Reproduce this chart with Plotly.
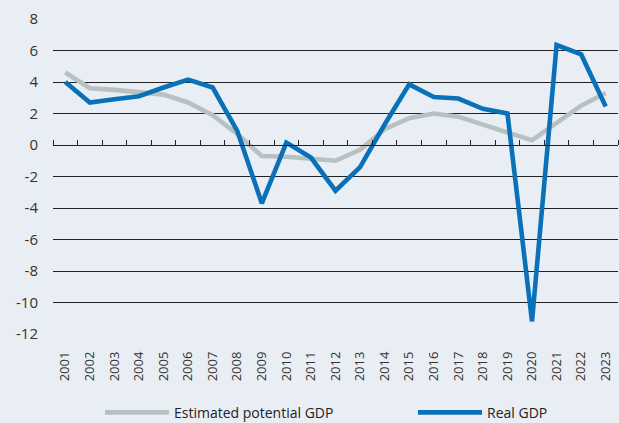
import plotly.graph_objects as go

years = [str(y) for y in range(2001, 2024)]
potential_gdp = [4.6, 3.6, 3.5, 3.35, 3.2, 2.7, 1.9, 0.7, -0.7, -0.75, -0.9, -1.0,
                 -0.3, 1.0, 1.7, 2.0, 1.8, 1.3, 0.85, 0.3, 1.4, 2.5, 3.3]
real_gdp = [4.0, 2.7, 2.9, 3.1, 3.65, 4.15, 3.65, 0.9, -3.7, 0.15, -0.8, -2.9,
            -1.4, 1.3, 3.85, 3.05, 2.95, 2.3, 2.0, -11.2, 6.35, 5.75, 2.45]
y_ticks = [8, 6, 4, 2, 0, -2, -4, -6, -8, -10, -12]
y_tick_text = [str(v) for v in y_ticks]

BG = "#e9eef4"
GRAY = "#b7c1c2"
BLUE = "#0a71b9"
FONT = "Open Sans"

fig = go.Figure()
fig.add_trace(go.Scatter(x=years, y=potential_gdp, mode="lines",
                         name="Estimated potential GDP", legend="legend",
                         line=dict(color=GRAY, width=4.6)))
fig.add_trace(go.Scatter(x=years, y=real_gdp, mode="lines", name="Real GDP",
                         legend="legend2",
                         line=dict(color=BLUE, width=4.6)))
# helper trace defining categories for the zero-line axis
fig.add_trace(go.Scatter(x=years, y=real_gdp, mode="lines", xaxis="x2",
                         line=dict(width=0), opacity=0, showlegend=False,
                         hoverinfo="skip"))

leg_common = dict(orientation="h", xanchor="left", y=-0.25, yanchor="middle",
                  font=dict(size=14, color="#222222"), itemwidth=64,
                  bgcolor="rgba(0,0,0,0)")

fig.update_layout(
    width=619, height=423,
    paper_bgcolor=BG, plot_bgcolor=BG,
    margin=dict(l=53, r=1, t=19, b=89, autoexpand=False),
    font=dict(family=FONT, color="#333333"),
    showlegend=True,
    legend=dict(x=(100 - 53) / 565, **leg_common),
    legend2=dict(x=(413 - 53) / 565, **leg_common),
    xaxis=dict(type="category", categoryarray=years, range=[-0.5, 22.5],
               showgrid=False, zeroline=False, showline=False, ticks="",
               tickangle=-90, tickfont=dict(size=13, color="#333333"),
               ticklabelstandoff=14, automargin=False),
    xaxis2=dict(type="category", categoryarray=years, range=[-0.5, 22.5],
                overlaying="x", anchor="free", position=0.6, side="top",
                showgrid=False, zeroline=False, showline=True, linecolor="#222222",
                linewidth=1, ticks="outside", tickson="boundaries", ticklen=5,
                tickcolor="#222222", tickwidth=1, showticklabels=False,
                automargin=False),
    yaxis=dict(range=[-12, 8], tickvals=y_ticks, ticktext=y_tick_text,
               showgrid=True, gridcolor="#222222", gridwidth=1, zeroline=False,
               showline=False, ticks="", tickfont=dict(size=15, color="#333333"),
               ticklabelstandoff=14, automargin=False),
)

fig.write_html("out.html", config={"displayModeBar": False},
               post_script=["document.body.style.margin='0px';"
                            "document.body.style.background='" + BG + "';"])
